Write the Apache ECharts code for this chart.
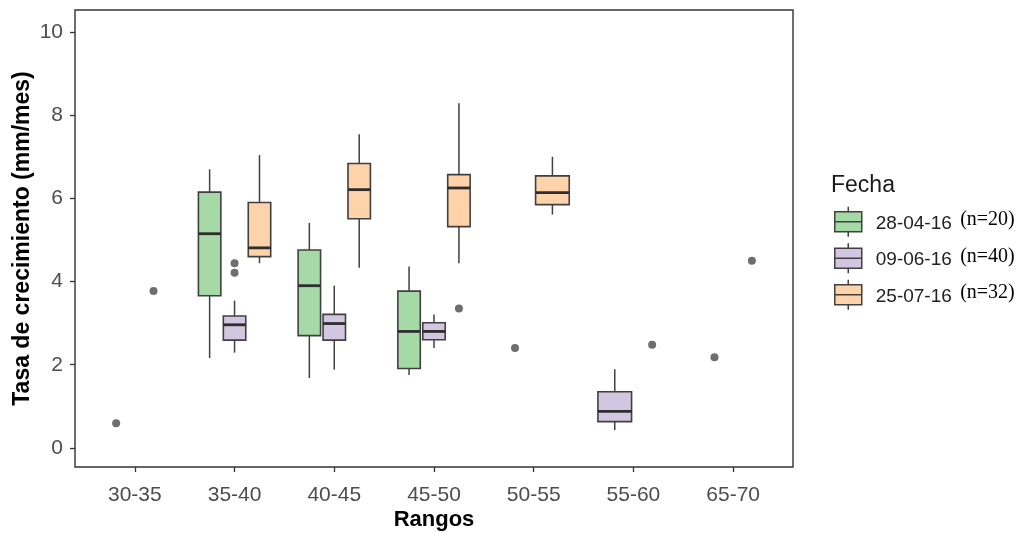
<!DOCTYPE html>
<html><head><meta charset="utf-8">
<script src="https://cdn.jsdelivr.net/npm/echarts@6/dist/echarts.min.js"></script>
<style>html,body{margin:0;padding:0;background:#fff}#c{width:1031px;height:533px}</style>
</head><body><div id="c"></div>
<script>
// ---- data ----
const categories = ['30-35', '35-40', '40-45', '45-50', '50-55', '55-60', '65-70'];
const groupNames = ['28-04-16', '09-06-16', '25-07-16'];
const groupN = ['(n=20)', '(n=40)', '(n=32)'];
const yTicks = [0, 2, 4, 6, 8, 10];
// per category: [lower whisker, Q1, median, Q3, upper whisker]; a single number = lone observation; null = no data
const fecha1 = [0.59, [2.16, 3.66, 5.15, 6.15, 6.70], [1.68, 2.70, 3.90, 4.76, 5.41], [1.75, 1.91, 2.80, 3.77, 4.36], null, null, 2.18];
const fecha2 = [3.77, [2.29, 2.59, 2.96, 3.17, 3.54], [1.88, 2.59, 2.99, 3.21, 3.90], [2.40, 2.60, 2.80, 3.01, 3.21], 2.40, [0.43, 0.63, 0.88, 1.35, 1.89], 4.50];
const fecha3 = [null, [4.44, 4.60, 4.81, 5.90, 7.04], [4.33, 5.51, 6.21, 6.84, 7.54], [4.44, 5.32, 6.25, 6.57, 8.29], [5.61, 5.85, 6.14, 6.54, 7.00], 2.48, null];
// outliers: [category index, value]
const outliers1 = [];
const outliers2 = [[1, 4.44], [1, 4.21]];
const outliers3 = [[3, 3.35]];

// ---- styling ----
const fills = ['#A5D9A5', '#D2C6E1', '#FED3AA'];
const edge = '#404040';
const groups = [fecha1, fecha2, fecha3];
const groupOutliers = [outliers1, outliers2, outliers3];
const DODGE_W = 0.75, BOX_FRAC = 0.9;

function dodge(ci) {
  const present = groups.map((g, i) => g[ci] != null ? i : -1).filter(i => i >= 0);
  const slot = DODGE_W / present.length;
  const res = {};
  present.forEach((gi, k) => { res[gi] = { x: ci + 1 - DODGE_W / 2 + slot * (k + 0.5), w: slot * BOX_FRAC }; });
  return res;
}
const layouts = categories.map((c, ci) => dodge(ci));

const series = [];
const points = [];
groups.forEach((g, gi) => {
  const boxes = [];
  g.forEach((v, ci) => {
    if (v == null) return;
    const L = layouts[ci][gi];
    if (Array.isArray(v)) boxes.push([L.x, v[0], v[1], v[2], v[3], v[4], L.w]);
    else points.push([L.x, v]);
  });
  groupOutliers[gi].forEach(([ci, val]) => points.push([layouts[ci][gi].x, val]));
  series.push({
    name: groupNames[gi],
    type: 'custom',
    itemStyle: { color: fills[gi], borderColor: edge, borderWidth: 1.5 },
    encode: { x: 0, y: [1, 2, 3, 4, 5] },
    dimensions: ['x', 'low', 'q1', 'med', 'q3', 'high', 'w'],
    data: boxes,
    renderItem: (params, api) => {
      const x = api.value(0), w = api.value(6);
      const pLow = api.coord([x, api.value(1)]);
      const pQ1 = api.coord([x, api.value(2)]);
      const pMed = api.coord([x, api.value(3)]);
      const pQ3 = api.coord([x, api.value(4)]);
      const pHigh = api.coord([x, api.value(5)]);
      const half = api.size([w, 0])[0] / 2;
      const ls = { stroke: edge, lineWidth: 1.5 };
      return {
        type: 'group', children: [
          { type: 'line', shape: { x1: pHigh[0], y1: pHigh[1], x2: pQ3[0], y2: pQ3[1] }, style: ls },
          { type: 'line', shape: { x1: pQ1[0], y1: pQ1[1], x2: pLow[0], y2: pLow[1] }, style: ls },
          { type: 'rect', shape: { x: pQ3[0] - half, y: pQ3[1], width: 2 * half, height: pQ1[1] - pQ3[1] }, style: { fill: fills[gi], stroke: edge, lineWidth: 1.6 } },
          { type: 'line', shape: { x1: pMed[0] - half, y1: pMed[1], x2: pMed[0] + half, y2: pMed[1] }, style: { stroke: '#2e2e2e', lineWidth: 2.8 } }
        ]
      };
    }
  });
});
series.push({
  name: 'puntos', type: 'scatter', data: points, symbolSize: 8,
  itemStyle: { color: '#4a4a4a' }, z: 5
});

const sans = 'Liberation Sans, Arial, sans-serif';
const chart = echarts.init(document.getElementById('c'), null, { renderer: 'canvas' });
chart.setOption({
  animation: false,
  backgroundColor: '#ffffff',
  title: {
    text: 'Fecha', left: 826, top: 169,
    textStyle: { fontFamily: sans, fontSize: 23, fontWeight: 'normal', color: '#1a1a1a' }
  },
  grid: { left: 75, right: 238, top: 10, bottom: 66, show: true, borderColor: '#333333', borderWidth: 1.4, backgroundColor: 'transparent', outerBoundsMode: 'none', containLabel: false },
  xAxis: {
    type: 'value', min: 0.4, max: 7.6,
    name: 'Rangos', nameLocation: 'middle', nameGap: 42, nameMoveOverlap: false,
    nameTextStyle: { fontFamily: sans, fontSize: 22, fontWeight: 'bold', color: '#000' },
    axisLine: { show: false, onZero: false },
    splitLine: { show: false },
    axisTick: { show: true, length: 5, customValues: categories.map((c, i) => i + 1), lineStyle: { color: '#333', width: 1.3 } },
    axisLabel: { customValues: categories.map((c, i) => i + 1), formatter: v => categories[Math.round(v) - 1], margin: 18, fontFamily: sans, fontSize: 21, color: '#4d4d4d' }
  },
  yAxis: {
    type: 'value', min: -0.46, max: 10.53,
    name: 'Tasa de crecimiento (mm/mes)', nameLocation: 'middle', nameGap: 41, nameMoveOverlap: false,
    nameTextStyle: { fontFamily: sans, fontSize: 23, fontWeight: 'bold', color: '#000' },
    axisLine: { show: false, onZero: false },
    splitLine: { show: false },
    axisTick: { show: true, length: 5, customValues: yTicks, lineStyle: { color: '#333', width: 1.3 } },
    axisLabel: { customValues: yTicks, margin: 12, fontFamily: sans, fontSize: 21, color: '#4d4d4d' }
  },
  legend: {
    data: groupNames.map((n, i) => ({ name: n, itemStyle: { color: fills[i], borderColor: edge, borderWidth: 1.5 } })),
    orient: 'vertical', left: 829, top: 201,
    itemWidth: 29, itemHeight: 30, itemGap: 5, selectedMode: false,
    icon: 'path://M14.5,0V5M1,5H28V25H1ZM1,15H28M14.5,25V30',
    formatter: n => '{a|' + n + '} {b|' + groupN[groupNames.indexOf(n)] + '}',
    textStyle: {
      rich: {
        a: { fontFamily: sans, fontSize: 19, color: '#222', padding: [4, 0, 0, 8] },
        b: { fontFamily: 'Liberation Serif, Times New Roman, serif', fontSize: 20, color: '#000', padding: [0, 0, 4, 5] }
      }
    }
  },
  series: series
});
</script></body></html>
